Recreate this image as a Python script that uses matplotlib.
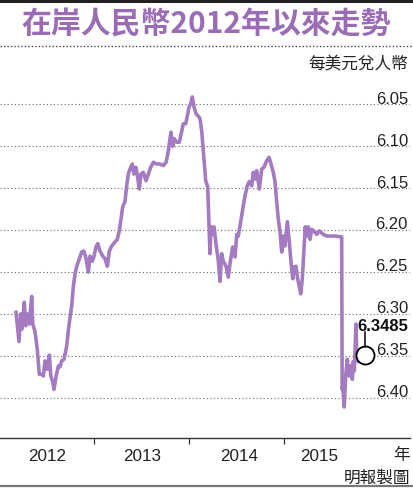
import numpy as np
import matplotlib
matplotlib.use("Agg")
import matplotlib.pyplot as plt
from matplotlib.patches import Rectangle
from matplotlib.lines import Line2D
from matplotlib.transforms import blended_transform_factory

# 在岸人民幣 每美元兌人幣 (讀圖估計)
years = [2012.174, 2012.205, 2012.223, 2012.237, 2012.261, 2012.276, 2012.293, 2012.314,
         2012.339, 2012.350, 2012.374, 2012.398, 2012.419, 2012.445, 2012.462, 2012.480,
         2012.504, 2012.525, 2012.540, 2012.561, 2012.574, 2012.595, 2012.620, 2012.638,
         2012.655, 2012.680, 2012.708, 2012.725, 2012.743, 2012.761, 2012.778, 2012.796,
         2012.814, 2012.841, 2012.866, 2012.890, 2012.912, 2012.936, 2012.954, 2012.978,
         2012.996, 2013.017, 2013.035, 2013.059, 2013.088, 2013.112, 2013.136, 2013.157,
         2013.182, 2013.217, 2013.241, 2013.262, 2013.280, 2013.298, 2013.322, 2013.340,
         2013.357, 2013.375, 2013.399, 2013.417, 2013.438, 2013.456, 2013.473, 2013.491,
         2013.515, 2013.544, 2013.568, 2013.593, 2013.621, 2013.657, 2013.691, 2013.726,
         2013.755, 2013.779, 2013.789, 2013.807, 2013.825, 2013.842, 2013.867, 2013.895,
         2013.920, 2013.937, 2013.962, 2013.979, 2013.997, 2014.015, 2014.032, 2014.050,
         2014.071, 2014.095, 2014.113, 2014.131, 2014.148, 2014.158, 2014.173, 2014.194,
         2014.208, 2014.218, 2014.229, 2014.247, 2014.260, 2014.281, 2014.306, 2014.324,
         2014.341, 2014.358, 2014.387, 2014.411, 2014.429, 2014.457, 2014.482, 2014.500,
         2014.516, 2014.542, 2014.563, 2014.587, 2014.611, 2014.632, 2014.658, 2014.674,
         2014.692, 2014.710, 2014.738, 2014.763, 2014.787, 2014.816, 2014.840, 2014.861,
         2014.885, 2014.903, 2014.921, 2014.938, 2014.956, 2014.974, 2014.991, 2015.008,
         2015.033, 2015.054, 2015.072, 2015.090, 2015.106, 2015.124, 2015.142, 2015.159,
         2015.174, 2015.191, 2015.209, 2015.222, 2015.237, 2015.254, 2015.272, 2015.290,
         2015.314, 2015.343, 2015.370, 2015.412, 2015.448, 2015.483, 2015.535, 2015.606,
         2015.611, 2015.617, 2015.633, 2015.648, 2015.665, 2015.683, 2015.701, 2015.718,
         2015.728, 2015.739, 2015.757, 2015.764, 2015.781, 2015.799]
rates = [6.298, 6.333, 6.300, 6.318, 6.286, 6.314, 6.300, 6.312,
         6.279, 6.312, 6.321, 6.342, 6.372, 6.372, 6.374, 6.356,
         6.366, 6.349, 6.374, 6.381, 6.390, 6.375, 6.362, 6.363,
         6.356, 6.354, 6.338, 6.320, 6.304, 6.290, 6.267, 6.252,
         6.243, 6.234, 6.226, 6.225, 6.234, 6.250, 6.231, 6.237,
         6.231, 6.220, 6.216, 6.225, 6.231, 6.234, 6.243, 6.225,
         6.219, 6.214, 6.211, 6.201, 6.187, 6.172, 6.166, 6.147,
         6.133, 6.127, 6.121, 6.133, 6.125, 6.137, 6.151, 6.133,
         6.131, 6.141, 6.133, 6.125, 6.119, 6.121, 6.121, 6.123,
         6.119, 6.106, 6.097, 6.083, 6.100, 6.091, 6.095, 6.095,
         6.082, 6.073, 6.073, 6.064, 6.053, 6.049, 6.041, 6.053,
         6.061, 6.064, 6.067, 6.082, 6.106, 6.121, 6.141, 6.148,
         6.193, 6.228, 6.196, 6.205, 6.196, 6.216, 6.237, 6.261,
         6.228, 6.237, 6.243, 6.256, 6.240, 6.220, 6.232, 6.205,
         6.207, 6.190, 6.175, 6.159, 6.147, 6.142, 6.147, 6.131,
         6.139, 6.129, 6.151, 6.127, 6.125, 6.117, 6.113, 6.121,
         6.131, 6.142, 6.166, 6.187, 6.202, 6.226, 6.207, 6.219,
         6.190, 6.214, 6.238, 6.258, 6.244, 6.243, 6.258, 6.267,
         6.276, 6.258, 6.222, 6.196, 6.207, 6.196, 6.211, 6.199,
         6.201, 6.205, 6.201, 6.205, 6.207, 6.207, 6.207, 6.208,
         6.390, 6.386, 6.411, 6.374, 6.354, 6.374, 6.362, 6.378,
         6.357, 6.368, 6.312, 6.350, 6.357, 6.354]

y_ticks = [6.05, 6.10, 6.15, 6.20, 6.25, 6.30, 6.35, 6.40]
year_ticks = [2013, 2014, 2015]
year_labels = ["2012", "2013", "2014", "2015"]
year_label_pos = [2012.5, 2013.5, 2014.52, 2015.37]
latest_x = 2015.851
latest_val = 6.3485

purple = "#a47bc0"
cjk = ["Noto Sans CJK TC", "DejaVu Sans"]
num = "Liberation Sans"

W, H = 413, 489
fig = plt.figure(figsize=(W / 100, H / 100), dpi=100)
ax = fig.add_axes([0, (H - 439) / H, 410 / W, (439 - 80) / H])

ax.plot(years, rates, color=purple, lw=2.6, solid_joinstyle="round", zorder=3)

ax.set_xlim(2012.005, 2016.326)
ax.set_ylim(6.448, 6.0196)

for s in ["top", "right", "left"]:
    ax.spines[s].set_visible(False)
ax.spines["bottom"].set_color("#333333")
ax.spines["bottom"].set_linewidth(1.0)

for v in y_ticks:
    ax.axhline(v, color="#666666", lw=0.8, ls=(0, (1, 2.2)), zorder=1)
ax.set_yticks([])

trans = blended_transform_factory(ax.transAxes, ax.transData)
for v in y_ticks:
    ax.text(0.995, v - 0.002, f"{v:.2f}", transform=trans, ha="right", va="baseline",
            fontsize=12, family=num, color="#222222", zorder=4)

ax.set_xticks(year_ticks)
ax.set_xticklabels([])
ax.tick_params(axis="x", which="major", length=4.5, width=0.9, color="#333333", direction="out")
ax.set_xticks(year_label_pos, minor=True)
ax.set_xticklabels(year_labels, minor=True, fontsize=12.3, family=num, color="#222222")
ax.tick_params(axis="x", which="minor", length=0, pad=7)

# 最新值標記
ax.plot([latest_x], [latest_val], "o", ms=13, mfc="white", mec="black", mew=1.3, zorder=5)
ax.plot([latest_x, latest_x], [latest_val - 0.009, latest_val - 0.027], color="black", lw=1.1, zorder=5)
ax.text(0.995, latest_val - 0.0295, f"{latest_val:.4f}", transform=trans, ha="right",
        va="baseline", fontsize=12, family=num, fontweight="bold", color="#111111", zorder=6)

# 邊框裝飾
fig.add_artist(Rectangle((0, 1 - 3.5 / H), 1, 3.5 / H, transform=fig.transFigure,
                         color="#231f20", lw=0))
fig.add_artist(Line2D([0, 1], [1 - 47 / H, 1 - 47 / H], transform=fig.transFigure,
                      color="#444444", lw=1.0, ls=(0, (1, 1.5))))
fig.add_artist(Line2D([0, 1], [1 - 486.5 / H, 1 - 486.5 / H], transform=fig.transFigure,
                      color="#777777", lw=1.6))

fig.text(0.5, 1 - 24 / H, "在岸人民幣2012年以來走勢", ha="center", va="center",
         fontsize=21.5, fontweight="bold", family=cjk, color="#9b6cb6")
fig.text(408 / W, 1 - 65 / H, "每美元兌人幣", ha="right", va="center",
         fontsize=12, family=cjk, color="#222222")
fig.text(410 / W, 1 - 456 / H, "年", ha="right", va="center",
         fontsize=12, family=cjk, color="#222222")
fig.text(410 / W, 1 - 478 / H, "明報製圖", ha="right", va="center",
         fontsize=12, family=cjk, color="#222222")

fig.savefig("out.png", dpi=100)
